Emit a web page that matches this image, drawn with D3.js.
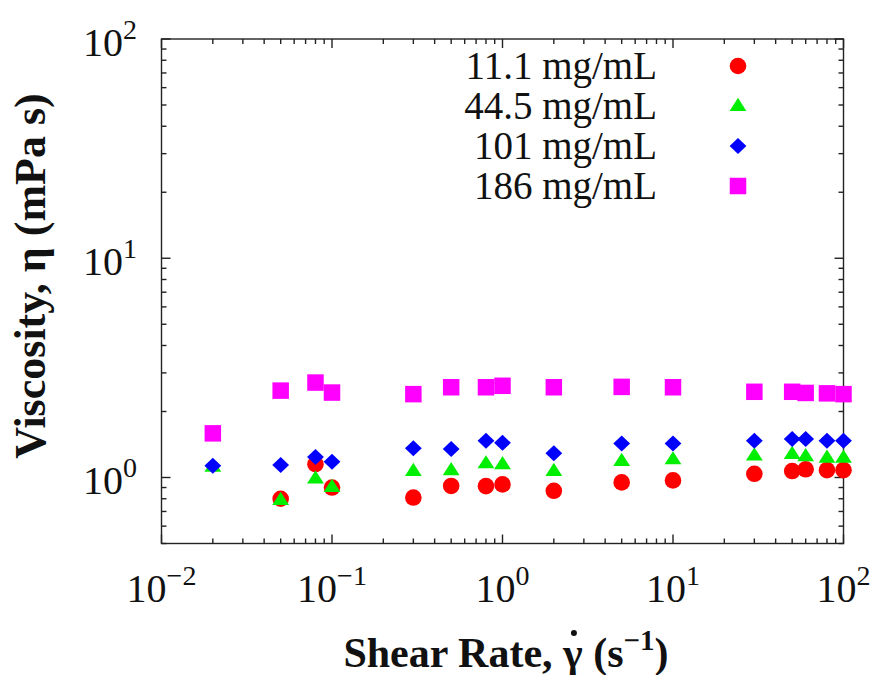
<!DOCTYPE html>
<html><head><meta charset="utf-8">
<script src="https://cdn.jsdelivr.net/npm/d3@7"></script>
<style>body{margin:0;background:#fff}svg{display:block}text{font-family:"Liberation Serif","Times New Roman",serif}</style>
</head><body><svg id="c" width="874" height="675"></svg>
<script>
const seriesNames = ["11.1 mg/mL","44.5 mg/mL","101 mg/mL","186 mg/mL"];
const seriesColors = ["#ff0000","#00ee00","#0000ff","#ff00ff"];
const seriesShapes = ["circle","triangle","diamond","square"];
const rate11 = [0.05,0.08,0.1,0.3,0.5,0.8,1,2,5,10,30,50,60,80,100];
const visc11 = [0.80,1.15,0.90,0.81,0.915,0.913,0.93,0.87,0.95,0.97,1.04,1.07,1.09,1.08,1.08];
const rate44 = [0.02,0.05,0.08,0.1,0.3,0.5,0.8,1,2,5,10,30,50,60,80,100];
const visc44 = [1.12,0.79,0.99,0.905,1.07,1.08,1.16,1.15,1.07,1.19,1.21,1.26,1.28,1.25,1.23,1.23];
const rate101 = [0.02,0.05,0.08,0.1,0.3,0.5,0.8,1,2,5,10,30,50,60,80,100];
const visc101 = [1.13,1.14,1.24,1.18,1.36,1.35,1.47,1.44,1.29,1.43,1.43,1.47,1.50,1.50,1.47,1.47];
const rate186 = [0.02,0.05,0.08,0.1,0.3,0.5,0.8,1,2,5,10,30,50,60,80,100];
const visc186 = [1.59,2.49,2.71,2.44,2.40,2.58,2.58,2.62,2.58,2.59,2.58,2.46,2.46,2.43,2.42,2.40];
const xTickExps = [-2,-1,0,1,2];
const yTickExps = [0,1,2];
const xTitle = "Shear Rate, ";
const yTitle = "Viscosity, η (mPa s)";

const rates = [rate11,rate44,rate101,rate186];
const viscs = [visc11,visc44,visc101,visc186];

const svg = d3.select("#c");
const L=161.5,R=843.5,T=39,B=543.5;
const x = d3.scaleLog().domain([0.01,100]).range([L,R]);
const y = d3.scaleLog().domain([0.5,100]).range([B,T]);

const sym = {
  circle: d3.symbol().type(d3.symbolCircle).size(Math.PI*8.3*8.3),
  square: d3.symbol().type(d3.symbolSquare).size(16.5*16.5),
};
function shapePath(s){
  if(s==="circle") return sym.circle();
  if(s==="square") return sym.square();
  if(s==="triangle") return "M0,-8.2L8.4,5L-8.4,5Z";
  if(s==="diamond") return "M0,-8L8.4,0L0,8L-8.4,0Z";
}

// ticks
const frame = svg.append("g").attr("stroke","#222").attr("stroke-width",1.4).attr("fill","none");
const xMinor=[], yMinor=[];
for(let e=-2;e<2;e++) for(let m=2;m<10;m++) xMinor.push(m*Math.pow(10,e));
for(let v of [0.5,0.6,0.7,0.8,0.9]) yMinor.push(v);
for(let e=0;e<2;e++) for(let m=2;m<10;m++) yMinor.push(m*Math.pow(10,e));
xTickExps.forEach(e=>{const px=x(Math.pow(10,e));
  frame.append("line").attr("x1",px).attr("x2",px).attr("y1",B).attr("y2",B-9);
  frame.append("line").attr("x1",px).attr("x2",px).attr("y1",T).attr("y2",T+9);});
xMinor.forEach(v=>{const px=x(v);
  frame.append("line").attr("x1",px).attr("x2",px).attr("y1",B).attr("y2",B-5);
  frame.append("line").attr("x1",px).attr("x2",px).attr("y1",T).attr("y2",T+5);});
yTickExps.forEach(e=>{const py=y(Math.pow(10,e));
  frame.append("line").attr("x1",L).attr("x2",L+9).attr("y1",py).attr("y2",py);
  frame.append("line").attr("x1",R).attr("x2",R-9).attr("y1",py).attr("y2",py);});
yMinor.forEach(v=>{const py=y(v);
  frame.append("line").attr("x1",L).attr("x2",L+5).attr("y1",py).attr("y2",py);
  frame.append("line").attr("x1",R).attr("x2",R-5).attr("y1",py).attr("y2",py);});
frame.append("rect").attr("x",L).attr("y",T).attr("width",R-L).attr("height",B-T);

// tick labels
xTickExps.forEach(e=>{
  const t=svg.append("text").attr("x",x(Math.pow(10,e))).attr("y",602).attr("text-anchor","middle")
    .attr("font-size",40).attr("fill","#111");
  t.append("tspan").text("10");
  t.append("tspan").attr("dy",-17).attr("font-size",28).text(e<0?"\u2212"+(-e):String(e));
});
yTickExps.forEach(e=>{
  const t=svg.append("text").attr("x",137).attr("y",y(Math.pow(10,e))+17).attr("text-anchor","end")
    .attr("font-size",40).attr("fill","#111");
  t.append("tspan").text("10");
  t.append("tspan").attr("dy",-17).attr("font-size",28).text(String(e));
});

// data
const g = svg.append("g");
rates.forEach((rs,i)=>{
  g.append("g").selectAll("path").data(rs.map((r,j)=>[r,viscs[i][j]])).join("path")
   .attr("d",shapePath(seriesShapes[i])).attr("fill",seriesColors[i])
   .attr("transform",d=>`translate(${x(d[0])},${y(d[1])})`);
});

// legend
seriesNames.forEach((n,i)=>{
  const by = 79 + i*40;
  svg.append("text").attr("x",657).attr("y",by).attr("text-anchor","end").attr("font-size",39).attr("fill","#111").text(n);
  svg.append("path").attr("d",shapePath(seriesShapes[i])).attr("fill",seriesColors[i])
    .attr("transform",`translate(738,${by-13})`);
});

// titles
const xt = svg.append("text").attr("x",506).attr("y",667).attr("text-anchor","middle")
  .attr("font-size",42).attr("font-weight","bold").attr("fill","#111");
xt.append("tspan").text(xTitle);
xt.append("tspan").text("\u03b3");
xt.append("tspan").text(" (s");
xt.append("tspan").attr("dy",-17).attr("font-size",29).text("\u22121");
xt.append("tspan").attr("dy",17).text(")");
try{
  const ext = xt.node().getExtentOfChar(xTitle.length);
  svg.append("circle").attr("cx",ext.x+ext.width/2+1).attr("cy",633).attr("r",3).attr("fill","#111");
}catch(e){}

svg.append("text").attr("transform","translate(45,276) rotate(-90)").attr("text-anchor","middle")
  .attr("font-size",44).attr("font-weight","bold").attr("fill","#111").text(yTitle);
</script></body></html>
